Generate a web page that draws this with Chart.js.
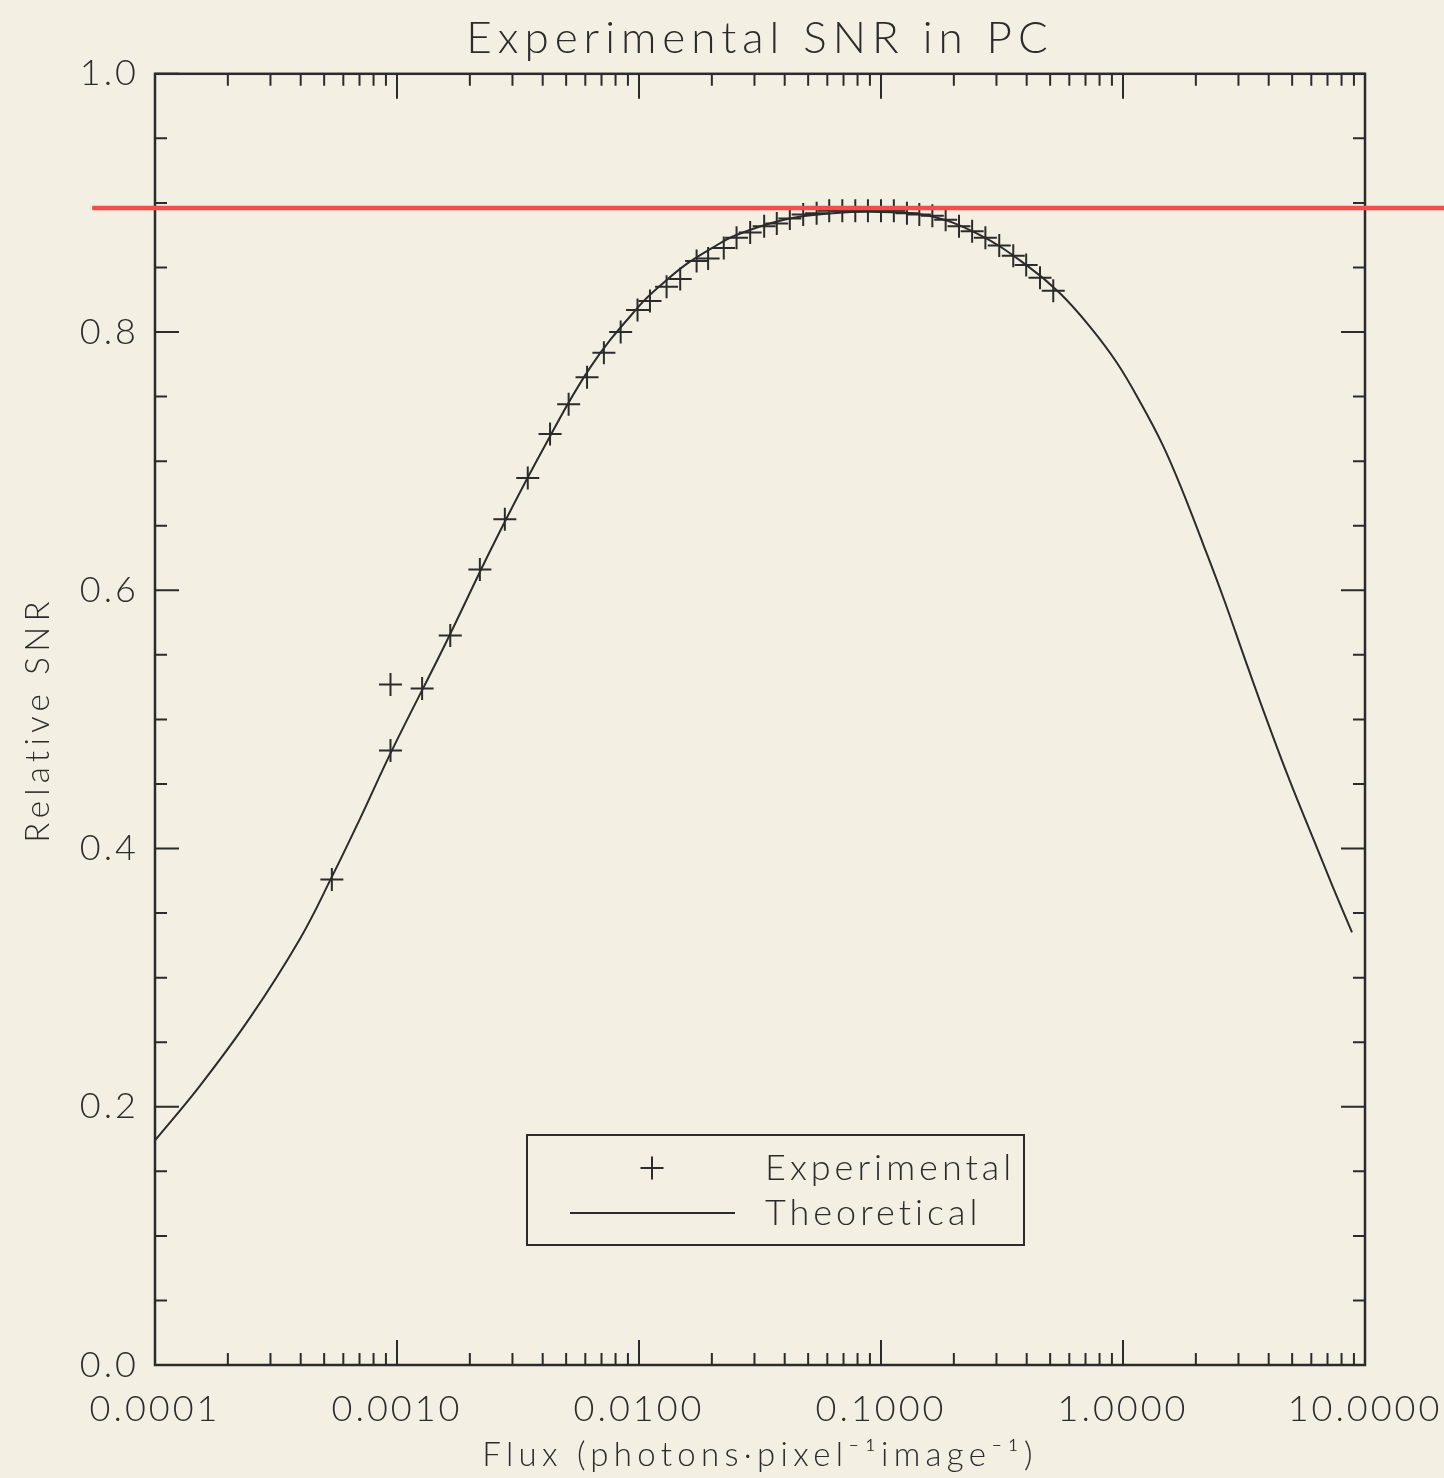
<!DOCTYPE html>
<html>
<head>
<meta charset="utf-8">
<title>Experimental SNR in PC</title>
<script src="https://cdn.jsdelivr.net/npm/chart.js@4.4.1/dist/chart.umd.min.js"></script>
<style>
    html, body { margin: 0; padding: 0; background: #f3efe2; }
    #wrap { position: relative; width: 1444px; height: 1478px; }
</style>
</head>
<body>
<div id="wrap"><canvas id="snrChart"></canvas></div>
<script>
// Measured points: flux (photons/pixel/image) and relative SNR
const expFlux = [5.38e-4, 9.4e-4, 9.4e-4, 1.27e-3, 1.66e-3, 2.2e-3, 2.79e-3, 3.47e-3, 4.29e-3, 5.12e-3,
    6.1e-3, 7.16e-3, 8.4e-3, 9.86e-3, 1.11e-2, 1.30e-2, 1.48e-2, 1.73e-2, 1.93e-2, 2.24e-2,
    2.53e-2, 2.88e-2, 3.29e-2, 3.71e-2, 4.2e-2, 4.77e-2, 5.42e-2, 6.11e-2, 6.92e-2, 7.83e-2,
    8.83e-2, 0.100, 0.113, 0.128, 0.144, 0.163, 0.185, 0.210, 0.238, 0.270,
    0.308, 0.352, 0.398, 0.454, 0.515];
const expSnr = [0.376, 0.527, 0.476, 0.524, 0.565, 0.616, 0.655, 0.687, 0.721, 0.744,
    0.765, 0.784, 0.800, 0.817, 0.824, 0.835, 0.841, 0.855, 0.857, 0.865,
    0.873, 0.877, 0.882, 0.884, 0.888, 0.891, 0.892, 0.894, 0.894, 0.894,
    0.894, 0.894, 0.894, 0.892, 0.891, 0.890, 0.887, 0.882, 0.878, 0.873,
    0.867, 0.859, 0.852, 0.842, 0.832];

// Model curve
const theoFlux = [1.00e-4, 1.53e-4, 2.47e-4, 3.97e-4, 5.38e-4, 7.03e-4, 9.53e-4, 1.58e-3, 2.51e-3, 3.98e-3,
    6.31e-3, 1.00e-2, 1.26e-2, 1.58e-2, 2.00e-2, 2.51e-2, 3.98e-2, 6.31e-2, 0.100, 0.158,
    0.251, 0.398, 0.549, 0.731, 0.945, 1.175, 1.463, 1.769, 2.141, 2.589,
    3.133, 3.683, 4.761, 6.098, 7.376, 8.838];
const theoSnr = [0.174, 0.216, 0.269, 0.330, 0.378, 0.423, 0.476, 0.558, 0.636, 0.708,
    0.773, 0.820, 0.838, 0.853, 0.865, 0.875, 0.887, 0.892, 0.893, 0.890,
    0.876, 0.852, 0.830, 0.804, 0.776, 0.746, 0.712, 0.676, 0.636, 0.595,
    0.551, 0.514, 0.458, 0.408, 0.370, 0.335];

// Horizontal reference level and the flux range it is drawn over
const peakLevel = 0.896;
const peakSpan = [5.5e-5, 21.5];

// Axes
const decadeTicks = [1e-4, 1e-3, 1e-2, 0.1, 1, 10];
const snrMajorTicks = [0, 0.2, 0.4, 0.6, 0.8, 1.0];

const INK = '#2b2b2b';
const FONT = "'Lato', 'Open Sans', sans-serif";

const isDecade = v => decadeTicks.some(d => Math.abs(v / d - 1) < 1e-6);
const isSnrMajor = v => snrMajorTicks.some(m => Math.abs(v - m) < 1e-6);

// Frame with inward ticks on all four sides
const frameTicks = {
    id: 'frameTicks',
    beforeDatasetsDraw(chart) {
        const { ctx, chartArea: a, scales: { x, y } } = chart;
        ctx.save();
        ctx.strokeStyle = INK;
        ctx.lineWidth = 2;
        ctx.beginPath();
        x.ticks.forEach(t => {
            const px = x.getPixelForValue(t.value);
            const len = isDecade(t.value) ? 25 : 12;
            ctx.moveTo(px, a.bottom); ctx.lineTo(px, a.bottom - len);
            ctx.moveTo(px, a.top); ctx.lineTo(px, a.top + len);
        });
        y.ticks.forEach(t => {
            const py = y.getPixelForValue(t.value);
            const len = isSnrMajor(t.value) ? 24 : 12;
            ctx.moveTo(a.left, py); ctx.lineTo(a.left + len, py);
            ctx.moveTo(a.right, py); ctx.lineTo(a.right - len, py);
        });
        ctx.stroke();
        ctx.lineWidth = 2.5;
        ctx.strokeRect(a.left, a.top, a.right - a.left, a.bottom - a.top);
        ctx.restore();
    }
};

// Wider letter spacing for the light font (title, tick labels, axis titles)
const tracking = {
    id: 'tracking',
    afterLayout(chart) {
        const spaced = (obj, key, px) => {
            if (!obj || obj['_spaced_' + key]) return;
            const orig = obj[key];
            obj[key] = function (...args) {
                const c = chart.ctx;
                c.save();
                c.letterSpacing = px + 'px';
                orig.apply(this, args);
                c.restore();
            };
            obj['_spaced_' + key] = true;
        };
        spaced(chart.titleBlock, 'draw', 6);
        spaced(chart.scales.x, 'drawLabels', 3);
        spaced(chart.scales.y, 'drawLabels', 3);
        spaced(chart.scales.x, 'drawTitle', 5.3);
        spaced(chart.scales.y, 'drawTitle', 5.3);
    }
};

// Boxed legend inside the plot
const boxLegend = {
    id: 'boxLegend',
    afterDraw(chart) {
        const { ctx, chartArea: a } = chart;
        const left = a.left + 372, right = a.left + 869;
        const top = a.bottom - 230, bottom = a.bottom - 120;
        const row1 = top + 33, row2 = top + 78;
        const textX = a.left + 610;
        ctx.save();
        ctx.strokeStyle = INK;
        ctx.lineWidth = 2;
        ctx.strokeRect(left, top, right - left, bottom - top);

        // cross symbol
        const cx = a.left + 497;
        ctx.beginPath();
        ctx.moveTo(cx - 11.5, row1); ctx.lineTo(cx + 11.5, row1);
        ctx.moveTo(cx, row1 - 11.5); ctx.lineTo(cx, row1 + 11.5);
        ctx.stroke();

        // line symbol
        ctx.beginPath();
        ctx.moveTo(a.left + 415, row2); ctx.lineTo(a.left + 580, row2);
        ctx.stroke();

        ctx.fillStyle = INK;
        ctx.font = '300 36px ' + FONT;
        ctx.letterSpacing = '4px';
        ctx.textBaseline = 'middle';
        ctx.textAlign = 'left';
        ctx.fillText(chart.data.datasets[1].label, textX, row1);
        ctx.fillText(chart.data.datasets[2].label, textX, row2);
        ctx.restore();
    }
};

document.addEventListener('DOMContentLoaded', function () {
    const ctx = document.getElementById('snrChart').getContext('2d');

    new Chart(ctx, {
        type: 'line',
        data: {
            datasets: [
                {
                    label: 'Peak level',
                    data: peakSpan.map(f => ({ x: f, y: peakLevel })),
                    borderColor: '#f84b4b',
                    borderWidth: 4.5,
                    pointRadius: 0,
                    clip: false,
                    order: 0
                },
                {
                    label: 'Experimental',
                    data: expFlux.map((f, i) => ({ x: f, y: expSnr[i] })),
                    showLine: false,
                    pointStyle: 'cross',
                    pointRadius: 11.5,
                    pointBorderWidth: 2,
                    pointBorderColor: INK,
                    order: 1
                },
                {
                    label: 'Theoretical',
                    data: theoFlux.map((f, i) => ({ x: f, y: theoSnr[i] })),
                    borderColor: INK,
                    borderWidth: 2,
                    pointRadius: 0,
                    tension: 0.4,
                    order: 2
                }
            ]
        },
        options: {
            responsive: true,
            maintainAspectRatio: false,
            animation: false,
            events: [],
            layout: { autoPadding: false, padding: { left: 0, right: 79, top: 0, bottom: 0 } },
            plugins: {
                legend: { display: false },
                tooltip: { enabled: false },
                title: {
                    display: true,
                    text: 'Experimental SNR in PC',
                    fullSize: false,
                    color: INK,
                    font: { family: FONT, size: 44, weight: 300 },
                    padding: { top: 12, bottom: 9 }
                }
            },
            scales: {
                x: {
                    type: 'logarithmic',
                    min: 1e-4,
                    max: 10,
                    grid: { display: false, drawTicks: false },
                    border: { display: false },
                    afterBuildTicks(scale) {
                        const ticks = [];
                        decadeTicks.forEach((d, i) => {
                            if (i === decadeTicks.length - 1) {
                                ticks.push({ value: d });
                                return;
                            }
                            for (let m = 1; m < 10; m++) ticks.push({ value: d * m });
                        });
                        scale.ticks = ticks;
                    },
                    afterFit(scale) {
                        scale.height = 113;
                        scale.paddingLeft = 0;
                        scale.paddingRight = 0;
                    },
                    ticks: {
                        autoSkip: false,
                        maxRotation: 0,
                        minRotation: 0,
                        padding: 23,
                        color: INK,
                        font: { family: FONT, size: 36, weight: 300 },
                        callback: v => isDecade(v) ? v.toFixed(4) : ''
                    },
                    title: {
                        display: true,
                        text: 'Flux (photons\u00b7pixel\u207b\u00b9image\u207b\u00b9)',
                        color: INK,
                        font: { family: FONT, size: 33, weight: 300 },
                        padding: { top: 0, bottom: 3 }
                    }
                },
                y: {
                    min: 0,
                    max: 1,
                    grid: { display: false, drawTicks: false },
                    border: { display: false },
                    afterFit(scale) {
                        scale.width = 155;
                        scale.paddingTop = 0;
                        scale.paddingBottom = 0;
                    },
                    ticks: {
                        stepSize: 0.05,
                        autoSkip: false,
                        padding: 16,
                        color: INK,
                        font: { family: FONT, size: 36, weight: 300 },
                        callback: v => isSnrMajor(v) ? v.toFixed(1) : ''
                    },
                    title: {
                        display: true,
                        text: 'Relative SNR',
                        color: INK,
                        font: { family: FONT, size: 33, weight: 300 },
                        padding: { top: 19, bottom: 0 }
                    }
                }
            }
        },
        plugins: [frameTicks, tracking, boxLegend]
    });
});
</script>
</body>
</html>
